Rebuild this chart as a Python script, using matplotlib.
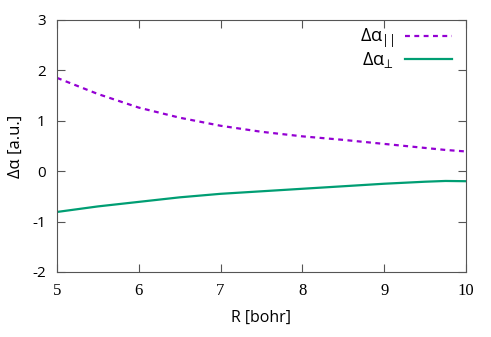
import numpy as np
import matplotlib
matplotlib.use("Agg")
import matplotlib.pyplot as plt

plt.rcParams['font.family'] = ['Open Sans', 'DejaVu Sans']
plt.rcParams['mathtext.fontset'] = 'custom'
plt.rcParams['mathtext.rm'] = 'Open Sans'
plt.rcParams['mathtext.it'] = 'Open Sans'
plt.rcParams['axes.unicode_minus'] = False

# values
R = [5.0, 5.5, 6.0, 6.5, 7.0, 7.5, 8.0, 8.5, 9.0, 9.5, 9.75, 10.0]
d_par = [1.85, 1.53, 1.26, 1.06, 0.90, 0.78, 0.69, 0.62, 0.54, 0.46, 0.42, 0.39]
d_perp = [-0.81, -0.70, -0.61, -0.52, -0.45, -0.40, -0.35, -0.30, -0.25, -0.21, -0.195, -0.20]

fig = plt.figure(figsize=(4.91, 3.37), dpi=100)
ax = fig.add_axes([0.116, 0.193, 0.833, 0.748])

ax.plot(R, d_par, color='#9400D3', lw=1.6, dashes=(2.2, 2.0),
        label='Δα$_{\\mathregular{||}}$')
ax.plot(R, d_perp, color='#009E73', lw=1.6, label='Δα$_{\\mathregular{\u22a5}}$')

ax.set_xlim(5, 10)
ax.set_ylim(-2, 3)
ax.set_xticks([5, 6, 7, 8, 9, 10])
ax.set_yticks([-2, -1, 0, 1, 2, 3])
ax.tick_params(direction='in', top=True, right=True, length=6,
               color='#555555', labelsize=11, pad=8)
for lab in ax.get_xticklabels():
    lab.set_family('Liberation Serif')
    lab.set_fontsize(12)
for s in ax.spines.values():
    s.set_color('#555555')

ax.set_xlabel('R [bohr]', fontsize=11.5, labelpad=8)
ax.set_ylabel('Δα [a.u.]', fontsize=12, labelpad=6)

leg = ax.legend(loc='upper right', frameon=False, markerfirst=False,
                fontsize=13, handlelength=2.6, borderaxespad=0.0,
                labelspacing=0.0, handletextpad=0.6,
                bbox_to_anchor=(0.983, 1.0))
for t in leg.get_texts():
    t.set_ha('right')

fig.savefig('out.png', dpi=100)
